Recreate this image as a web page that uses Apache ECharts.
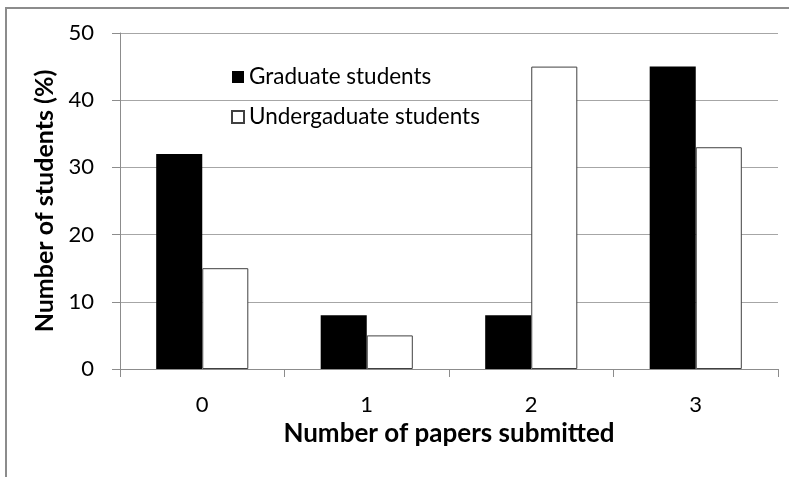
<!DOCTYPE html>
<html>
<head>
<meta charset="utf-8">
<script src="https://cdn.jsdelivr.net/npm/echarts@6/dist/echarts.min.js"></script>
<style>
  html, body { margin: 0; padding: 0; background: #fff; }
  #chart { width: 789px; height: 477px; }
</style>
</head>
<body>
<div id="chart"></div>
<script>
// Papers submitted per student, share of each group (%)
const categories = ['0', '1', '2', '3'];
const graduate = [32, 8, 8, 45];
const undergraduate = [15, 5, 45, 33];
const yTicks = { min: 0, max: 50, interval: 10 };

const FONT = 'Lato, "Open Sans", sans-serif';

const chart = echarts.init(document.getElementById('chart'));
chart.setOption({
  animation: false,
  backgroundColor: '#fff',
  graphic: [{
    type: 'rect',
    shape: { x: 6, y: 8, width: 820, height: 520 },
    style: { fill: 'none', stroke: '#8c8c8c', lineWidth: 2 },
    silent: true
  }],
  grid: { left: 120, right: 11, top: 33, bottom: 108, containLabel: false },
  legend: {
    orient: 'vertical',
    left: 226,
    top: 59,
    itemWidth: 12,
    itemHeight: 12,
    itemGap: 14,
    icon: 'rect',
    textStyle: { fontFamily: FONT, fontSize: 22.5, color: '#000', lineHeight: 26 },
    data: ['Graduate students', 'Undergaduate students']
  },
  xAxis: {
    type: 'category',
    data: categories,
    name: 'Number of papers submitted',
    nameLocation: 'middle',
    nameGap: 51,
    nameTextStyle: { fontFamily: FONT, fontSize: 26, fontWeight: 'bold', color: '#000' },
    axisLine: { lineStyle: { color: '#8c8c8c', width: 1 } },
    axisTick: { show: true, length: 8, lineStyle: { color: '#8c8c8c' } },
    axisLabel: { fontFamily: FONT, fontSize: 22, color: '#000', margin: 25 }
  },
  yAxis: {
    type: 'value',
    min: yTicks.min,
    max: yTicks.max,
    interval: yTicks.interval,
    name: 'Number of students (%)',
    nameLocation: 'middle',
    nameGap: 62,
    nameTextStyle: { fontFamily: FONT, fontSize: 25, fontWeight: 'bold', color: '#000' },
    axisLine: { show: true, lineStyle: { color: '#8c8c8c', width: 1 } },
    axisTick: { show: true, length: 8, lineStyle: { color: '#8c8c8c' } },
    axisLabel: { fontFamily: FONT, fontSize: 22, color: '#000', margin: 26 },
    splitLine: { lineStyle: { color: '#a6a6a6', width: 1 } }
  },
  series: [
    {
      name: 'Graduate students',
      type: 'bar',
      data: graduate,
      barGap: '0%',
      barCategoryGap: '44%',
      itemStyle: { color: '#000', borderColor: '#000', borderWidth: 0 }
    },
    {
      name: 'Undergaduate students',
      type: 'bar',
      data: undergraduate,
      barGap: '0%',
      barCategoryGap: '44%',
      itemStyle: { color: '#fff', borderColor: '#404040', borderWidth: 1 }
    }
  ]
});
</script>
</body>
</html>
